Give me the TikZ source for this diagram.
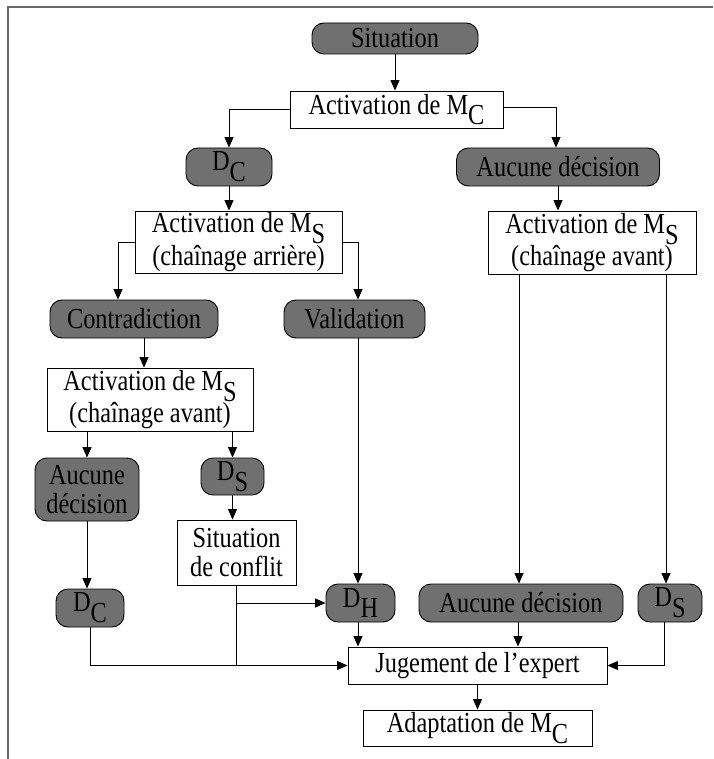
\documentclass[tikz,border=0pt]{standalone}
\usepackage{fontspec}
\setmainfont{Liberation Serif}[FakeStretch=0.84]
\usetikzlibrary{arrows.meta}
\definecolor{stategray}{RGB}{112,112,112}
\definecolor{framegray}{RGB}{105,105,105}
% lowered, full-size index letter (M_C, D_S, ...)
\newcommand\lowsub[1]{\raisebox{-0.37em}{#1}}

\begin{document}
\begin{tikzpicture}[x=1pt,y=-1pt,
  font=\fontsize{29}{29.5}\selectfont,
  box/.style={draw=black, line width=0.9pt, inner sep=0pt, align=center},
  state/.style={box, rounded corners=12pt, fill=stategray},
  proc/.style={box, fill=white},
  conn/.style={line width=0.9pt, -{Triangle[length=10.5pt,width=9pt]}},
  wire/.style={line width=0.9pt},
]
\useasboundingbox (0,0) rectangle (713,759);

% page frame (top and left edges)
\draw[framegray, line width=1.6pt] (8,759) -- (8,7) -- (713,7);

% nodes
\node[state, minimum width=166pt, minimum height=31pt] (sit)   at (395,38.5)   {Situation};
\node[proc,  minimum width=213pt, minimum height=37pt] (amc)   at (396.5,109.5){Activation de M\lowsub{C}};
\node[state, minimum width=86pt,  minimum height=38pt] (dc1)   at (229,167)    {D\lowsub{C}};
\node[state, minimum width=203pt, minimum height=38pt] (aucR)  at (558,167)    {Aucune décision};
\node[proc,  minimum width=207pt, minimum height=62pt] (msA)   at (238.5,242)  {Activation de M\lowsub{S}\\(chaînage arrière)};
\node[proc,  minimum width=208pt, minimum height=63pt] (msR)   at (592,242.5)  {Activation de M\lowsub{S}\\(chaînage avant)};
\node[state, minimum width=168pt, minimum height=38pt] (contra)at (134,319)    {Contradiction};
\node[state, minimum width=141pt, minimum height=38pt] (valid) at (354.5,319)  {Validation};
\node[proc,  minimum width=206pt, minimum height=63pt] (msL)   at (150,399.5)  {Activation de M\lowsub{S}\\(chaînage avant)};
\node[state, minimum width=104pt, minimum height=63pt] (aucL)  at (87,489.5)   {Aucune\\décision};
\node[state, minimum width=63pt,  minimum height=37pt] (ds1)   at (232.5,476.5){D\lowsub{S}};
\node[proc,  minimum width=119pt, minimum height=65pt] (conf)  at (236.5,552.5){Situation\\de conflit};
\node[state, minimum width=68pt,  minimum height=38pt] (dc2)   at (90,608)     {D\lowsub{C}};
\node[state, minimum width=69pt,  minimum height=38pt] (dh)    at (360.5,603)  {D\lowsub{H}};
\node[state, minimum width=204pt, minimum height=38pt] (aucB)  at (521,603)    {Aucune décision};
\node[state, minimum width=64pt,  minimum height=38pt] (ds2)   at (670,603)    {D\lowsub{S}};
\node[proc,  minimum width=259pt, minimum height=37pt] (jug)   at (477.5,665.5){Jugement de l’expert};
\node[proc,  minimum width=229pt, minimum height=36pt] (adapt) at (477.5,728)  {Adaptation de M\lowsub{C}};

% helper points on the shared lines
\coordinate (cfJoin) at (conf.south |- jug.west);
\coordinate (cfTap)  at (conf.south |- dh.west);

% connectors
\draw[conn] (sit.south) -- (sit.south |- amc.north);
\draw[conn] (amc.west) -| (dc1.north);
\draw[conn] ([yshift=2pt]amc.east) -| ([xshift=-2pt]aucR.north);
\draw[conn] (dc1.south) -- (dc1.south |- msA.north);
\draw[conn] (aucR.south) -- (aucR.south |- msR.north);

\draw[conn] (msA.west) -| ([xshift=-16pt]contra.north);
\draw[conn] (msA.east) -| ([xshift=3.5pt]valid.north);
\draw[conn] ([xshift=10pt]contra.south) -- ([xshift=10pt]contra.south |- msL.north);

\draw[conn] (aucL.north |- msL.south) -- (aucL.north);
\draw[conn] (ds1.north |- msL.south) -- (ds1.north);
\draw[conn] (ds1.south) -- (ds1.south |- conf.north);

\draw[conn] ([xshift=-2pt]msR.south -| aucB.north) -- ([xshift=-2pt]aucB.north);
\draw[conn] ([xshift=-4pt]msR.south -| ds2.north) -- ([xshift=-4pt]ds2.north);

\draw[conn] (aucL.south) -- (aucL.south |- dc2.north);
\draw[conn] ([xshift=3.5pt]valid.south) -- ([xshift=3.5pt]valid.south |- dh.north);

\draw[wire] (conf.south) -- (cfJoin);
\draw[conn] (cfTap) -- (dh.west);
\draw[conn] (dc2.south) |- (jug.west);
\draw[conn] ([xshift=-2.5pt]dh.south) -- ([xshift=-2.5pt]dh.south |- jug.north);
\draw[conn] ([xshift=-3pt]aucB.south) -- ([xshift=-3pt]aucB.south |- jug.north);
\draw[conn] ([xshift=-6pt]ds2.south) |- (jug.east);
\draw[conn] (jug.south) -- (adapt.north);
\end{tikzpicture}
\end{document}
